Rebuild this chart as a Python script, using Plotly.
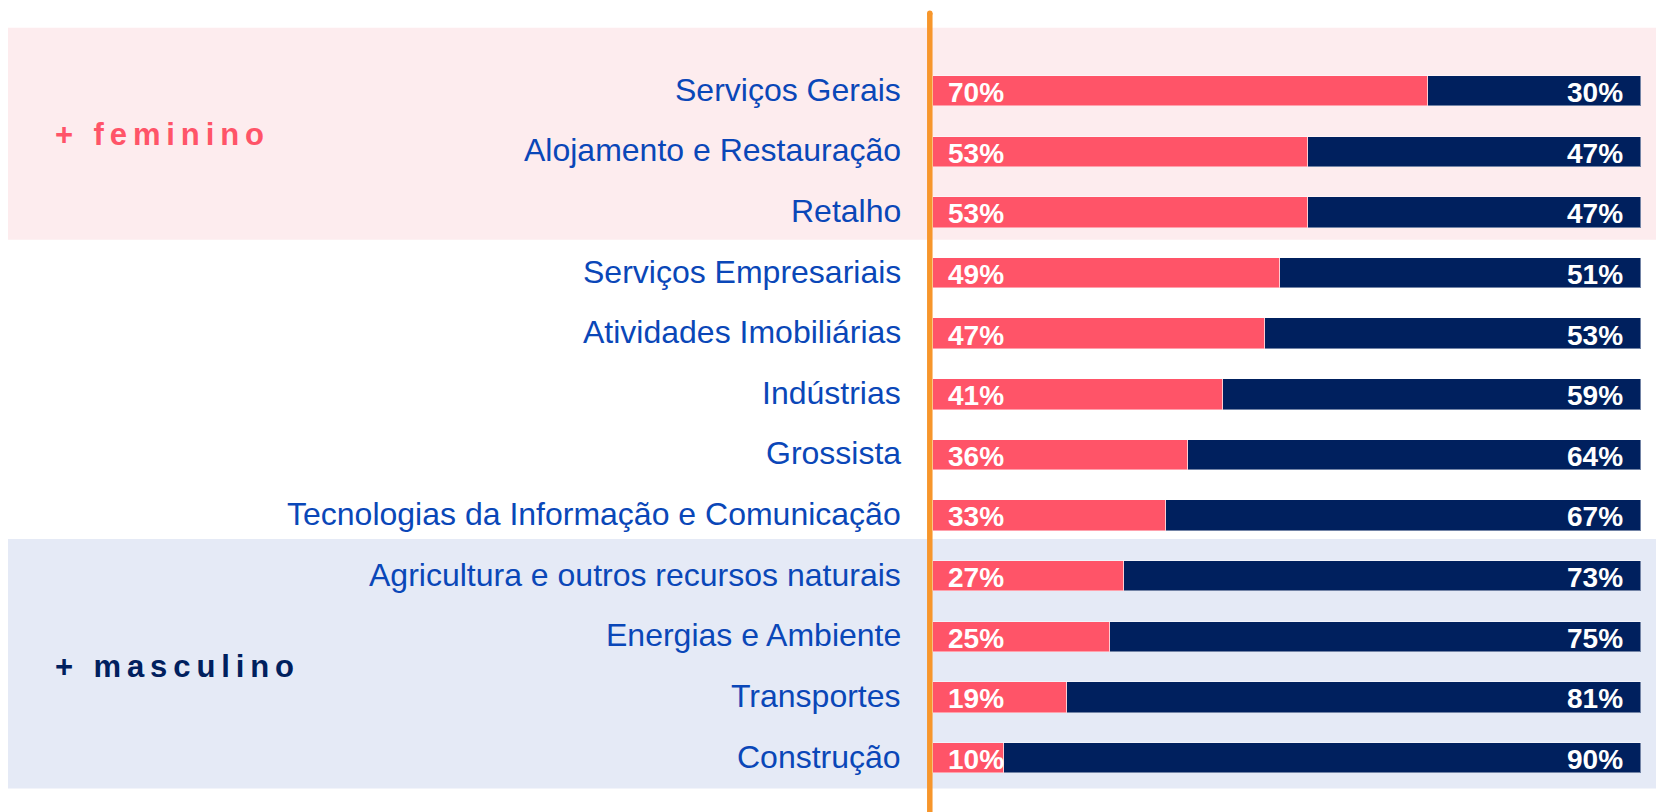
import plotly.graph_objects as go

# ---- data ----
categories = [
    "Serviços Gerais",
    "Alojamento e Restauração",
    "Retalho",
    "Serviços Empresariais",
    "Atividades Imobiliárias",
    "Indústrias",
    "Grossista",
    "Tecnologias da Informação e Comunicação",
    "Agricultura e outros recursos naturais",
    "Energias e Ambiente",
    "Transportes",
    "Construção",
]
feminino = [70, 53, 53, 49, 47, 41, 36, 33, 27, 25, 19, 10]
masculino = [30, 47, 47, 51, 53, 59, 64, 67, 73, 75, 81, 90]
group_labels = ["+ feminino", "+ masculino"]

# ---- styling ----
PAGE_W, PAGE_H = 1664, 812
OFF = 8  # default page body margin
W, H = PAGE_W - OFF, PAGE_H - OFF
RED = "#FF5468"
NAVY = "#00205E"
LABEL_BLUE = "#0A47B8"
PINK_BG = "#FDECEE"
BLUE_BG = "#E5EAF6"
ORANGE = "#F7962B"
FONT = "Arial, Liberation Sans, sans-serif"

# pixel mapping helpers (page pixels -> data units; plot area = full figure)
BAR_X0, PX_PER_PCT = 932.7 - OFF, 7.08
ROW0, ROW_H = 91.2 - OFF, 60.62
x_range = [(0 - BAR_X0) / PX_PER_PCT, (W - BAR_X0) / PX_PER_PCT]
y_range = [(H - ROW0) / ROW_H, (0 - ROW0) / ROW_H]


def yi(px):
    return (px - OFF - ROW0) / ROW_H


def xv(px):
    return (px - OFF - BAR_X0) / PX_PER_PCT


def xp(px):
    return (px - OFF) / W


idx = list(range(len(categories)))

fig = go.Figure()
fig.add_trace(go.Bar(
    y=idx, x=feminino, orientation="h", width=0.503,
    marker=dict(color=RED, line=dict(color="rgba(255,255,255,0.45)", width=1)),
    hoverinfo="skip", name="Feminino",
))
fig.add_trace(go.Bar(
    y=idx, x=masculino, orientation="h", width=0.503,
    marker=dict(color=NAVY, line=dict(color="rgba(255,255,255,0.45)", width=1)),
    hoverinfo="skip", name="Masculino",
))

shapes = [
    dict(type="rect", xref="paper", yref="y", x0=0, x1=1, y0=yi(27.7), y1=yi(239.7),
         fillcolor=PINK_BG, line=dict(width=0), layer="below"),
    dict(type="rect", xref="paper", yref="y", x0=0, x1=1, y0=yi(539), y1=yi(788.5),
         fillcolor=BLUE_BG, line=dict(width=0), layer="below"),
    dict(type="line", xref="x", yref="y", x0=xv(929.8), x1=xv(929.8), y0=yi(13), y1=yi(PAGE_H + 5),
         line=dict(color=ORANGE, width=5.5), layer="above"),
    dict(type="circle", xref="x", yref="y", x0=xv(927.05), x1=xv(932.55), y0=yi(10.5), y1=yi(16),
         fillcolor=ORANGE, line=dict(width=0), layer="above"),
]

annotations = []
for i, (cat, f, m) in enumerate(zip(categories, feminino, masculino)):
    annotations.append(dict(
        x=xp(901), xref="paper", y=i, yref="y", text=cat, showarrow=False,
        xanchor="right", yanchor="middle", xshift=2, yshift=1.5,
        font=dict(family=FONT, size=32, color=LABEL_BLUE),
    ))
    annotations.append(dict(
        x=0, xref="x", y=i, yref="y", text=f"<b>{f}%</b>", showarrow=False,
        xanchor="left", yanchor="middle", xshift=13, yshift=-1.4,
        font=dict(family=FONT, size=28, color="white"),
    ))
    annotations.append(dict(
        x=100, xref="x", y=i, yref="y", text=f"<b>{m}%</b>", showarrow=False,
        xanchor="right", yanchor="middle", xshift=-16, yshift=-1.4,
        font=dict(family=FONT, size=28, color="white"),
    ))

for label, ypx, col in [(group_labels[0], 134.3, RED), (group_labels[1], 666.0, NAVY)]:
    annotations.append(dict(
        x=xp(53), xref="paper", y=yi(ypx), yref="y",
        text=f'<span style="letter-spacing:5.9px"><b>{label}</b></span>',
        showarrow=False, xanchor="left", yanchor="middle",
        font=dict(family=FONT, size=31, color=col),
    ))

fig.update_layout(
    width=W, height=H, barmode="stack",
    margin=dict(l=0, r=0, t=0, b=0),
    paper_bgcolor="white", plot_bgcolor="rgba(0,0,0,0)",
    showlegend=False, bargap=0,
    xaxis=dict(range=x_range, visible=False, fixedrange=True),
    yaxis=dict(range=y_range, visible=False, fixedrange=True),
    shapes=shapes, annotations=annotations,
)

fig.write_html("out.html", config={"displayModeBar": False})
